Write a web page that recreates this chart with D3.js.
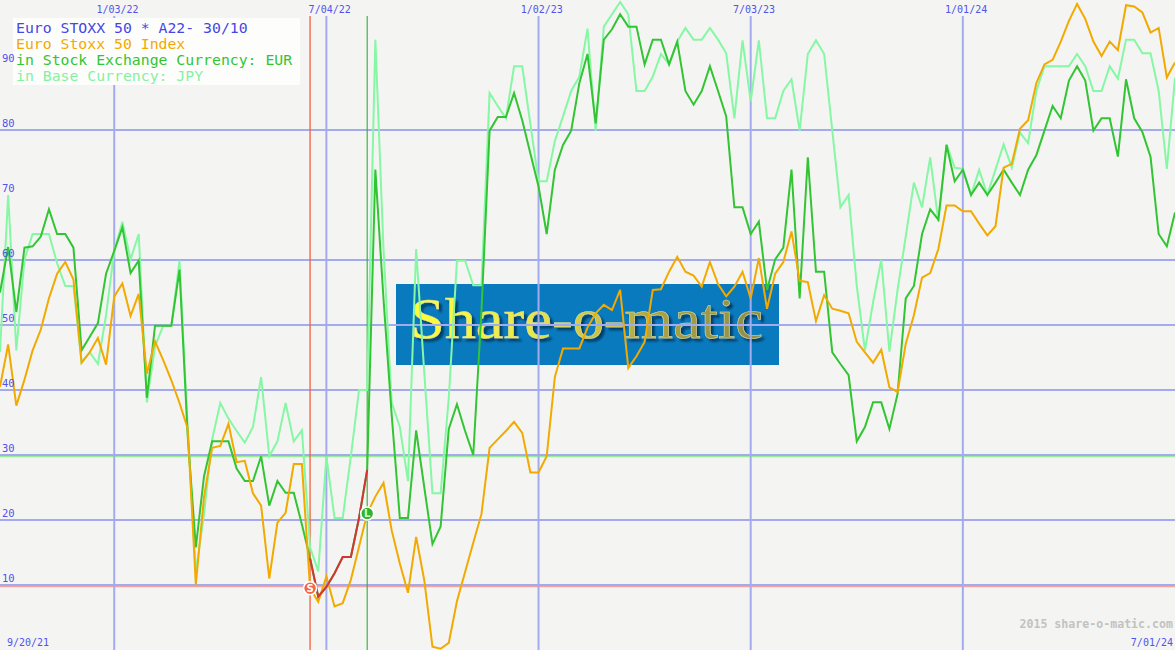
<!DOCTYPE html>
<html><head><meta charset="utf-8">
<script src="https://cdn.jsdelivr.net/npm/d3@7"></script>
<style>html,body{margin:0;padding:0;background:#f4f5f2;overflow:hidden}svg{display:block}</style>
</head><body>
<svg id="c" width="1175" height="650"></svg>
<script>
// ---------- data ----------
const startDate = "2021-09-27";
const endDate = "2024-07-01";

const indexValues = [
40.5,47,37.6,41.6,46.1,49.3,54.1,57.9,59.7,57,
44.2,45.8,48,43.9,54.4,56.4,51.4,54.8,42.5,47.5,
44.6,41.5,38,34.1,10.1,23.5,31.1,31.4,34.8,28.9,
29.1,24.1,22.2,11,19.6,21.1,28.6,28.6,9.5,7.4,
11.3,6.7,7.2,10.8,15.9,21,23.6,25.7,18.4,13.3,
8.8,17.4,10.7,0.5,0.2,1.1,7.5,12,16.5,20.9,
31.1,32.4,33.7,35.1,33.4,27.3,27.3,29.8,42,46.4,
46.4,46.4,49.6,51.8,53.1,52.3,55.4,43.4,45.2,47.4,
55.4,55.5,58.2,60.5,58.2,57.6,55.9,59.7,56.3,54.4,
55.9,58.2,54.1,60.3,52.5,57.9,59.7,64.4,56.8,56.6,
50.6,54.6,52.5,52.2,51.8,47.4,45.8,44.2,46.2,40.4,
39.7,47.1,51.5,57.3,58,61.7,68.4,68.4,67.5,67.5,
65.6,63.8,65.2,74.2,74.8,80.2,81.5,87.2,90.1,90.8,
93.6,96.8,99.4,97.1,93.6,91.4,93.6,92.3,99.2,99,
98.1,95,95.7,88.1,90.4];

const eurValues = [
55,62,52,61.9,62.1,63.6,67.8,64,64,61.9,
46.1,48.2,50.3,57.9,61.4,65,58,59.9,38.8,49.9,
49.9,49.9,58.5,33,15.8,26.7,32.1,32.1,32.1,27.9,
26,26,29.8,22.2,26,24.2,24.2,19.3,14.1,8.2,
9.7,11.8,14.3,14.3,20.3,27.7,73.9,54,36.2,20.3,
20.3,33.8,25,16.3,19,34,37.8,33.7,30,52,
79.9,82,82,85.7,81.5,76.4,71.3,64,73.9,77.7,
79.9,87.2,91.7,81,93.9,95.5,97.8,95.9,95.9,90.1,
93.9,93.9,90.1,93.6,86,83.9,86,89.8,86,82.1,
68.1,68.1,64,65.9,55.4,60.1,61.9,73.9,54.1,75.8,
58.2,58.2,45.8,44,42.3,32.1,34.3,38.1,38.1,34,
39.4,54.1,56,64,67.8,66.2,77.7,72.1,73.9,70,
71.9,70,71.9,73.9,71.9,70,73.9,76.1,79.9,83.7,
81.8,87.6,89.8,87.6,79.9,81.8,81.8,75.9,87.8,81.8,
79.7,75.9,64,62.1,67.3];

const jpyValues = [
45.8,70,46.1,60.1,64,64,64,59.5,56,56,
44.2,45.8,44,51.5,61.4,65.9,60.1,64,38.1,46.7,
49.9,49.9,59.9,34.3,12,20.9,32.4,38,35.6,33.7,
31.9,34.3,42,29.8,32.1,38,32.1,33.8,15.8,12.1,
29.8,20.3,20.3,29.8,40,40,93.9,61.7,38.1,34.3,
26,61.7,42.6,24.1,24.1,38.8,59.9,59.9,56.1,56.1,
85.7,83.7,81.8,89.8,89.8,80.9,72.1,72.1,78.3,82.1,
86,88.2,95.6,79.9,95.9,97.8,99.7,97.8,86,86,
88.2,91.7,90.1,93.6,95.7,93.9,93.9,95.7,93.9,91.8,
81.8,93.8,84.4,93.8,81.8,81.8,86,87.8,79.9,91.7,
93.8,91.7,79.9,68.1,70,56,46.1,53.5,60,45.9,
55.4,63.6,71.9,68.1,75.8,65.9,77.8,74.2,74,70,
73.9,70,73.9,77.8,74.2,79.6,78,86,89.8,89.8,
89.8,89.8,91.7,89.8,86,86,89.8,87.9,93.9,93.9,
91.8,91.8,86,74,88];

const topTickDates = ["2022-01-03","2022-07-04","2023-01-02","2023-07-03","2024-01-01"];
const topTickLabels = ["1/03/22","7/04/22","1/02/23","7/03/23","1/01/24"];
const yTickValues = [10,20,30,40,50,60,70,80,90];
const yGridValues = [10,20,30,40,50,60,80];
const startLabel = "9/20/21";
const endLabel = "7/01/24";
const sellWeek = 38;
const buyWeek = 45;
const legendLines = [
  {text:"Euro STOXX 50 * A22- 30/10", color:"#4646e4"},
  {text:"Euro Stoxx 50 Index", color:"#f2a900"},
  {text:"in Stock Exchange Currency: EUR", color:"#33c433"},
  {text:"in Base Currency: JPY", color:"#86f0a4"}
];

// ---------- chart ----------
const W = 1175, H = 650;
const svg = d3.select("#c");
const parse = d3.utcParse("%Y-%m-%d");
const dates = d3.utcMonday.range(parse(startDate), d3.utcDay.offset(parse(endDate), 1));
const x = d3.scaleUtc().domain([dates[0], dates[dates.length - 1]]).range([0, W]);
const y = d3.scaleLinear().domain([0, 100]).range([H, 0]);

svg.append("rect").attr("width", W).attr("height", H).attr("fill", "#f4f5f2");

// watermark
const defs = svg.append("defs");
const grad = defs.append("linearGradient").attr("id", "wm").attr("x1", "0").attr("x2", "1").attr("y1", "0").attr("y2", "0");
grad.append("stop").attr("offset", "0").attr("stop-color", "#ffff3a");
grad.append("stop").attr("offset", "0.35").attr("stop-color", "#e8e64a");
grad.append("stop").attr("offset", "0.7").attr("stop-color", "#aaa244");
grad.append("stop").attr("offset", "1").attr("stop-color", "#8e8c4a");
const flt = defs.append("filter").attr("id", "sh").attr("x", "-5%").attr("y", "-20%").attr("width", "110%").attr("height", "150%");
flt.append("feDropShadow").attr("dx", 3).attr("dy", 3).attr("stdDeviation", 1.2)
  .attr("flood-color", "#04385c").attr("flood-opacity", 0.9);
const wm = svg.append("g");
wm.append("rect").attr("x", 396).attr("y", 284).attr("width", 383).attr("height", 81).attr("fill", "#0a7abf");
wm.append("text").attr("x", 410).attr("y", 338).attr("font-family", "Liberation Serif, serif")
  .attr("font-size", 56).attr("textLength", 353).attr("lengthAdjust", "spacingAndGlyphs")
  .attr("fill", "url(#wm)").attr("stroke", "#e0e0a0").attr("stroke-width", 0.5)
  .attr("filter", "url(#sh)").text("Share-o-matic");

// level lines
svg.append("line").attr("x1", 0).attr("x2", W).attr("y1", y(30) + 1.6).attr("y2", y(30) + 1.6)
  .attr("stroke", "#98ee98").attr("stroke-width", 1.3);
svg.append("line").attr("x1", 0).attr("x2", W).attr("y1", y(10) + 1.6).attr("y2", y(10) + 1.6)
  .attr("stroke", "#f4a4a0").attr("stroke-width", 1.3);

// grid
const gridColor = "#a3abee";
svg.append("g").selectAll("line").data(yGridValues).join("line")
  .attr("x1", 0).attr("x2", W).attr("y1", d => y(d)).attr("y2", d => y(d))
  .attr("stroke", gridColor).attr("stroke-width", 2);
svg.append("g").selectAll("line").data(topTickDates).join("line")
  .attr("x1", d => x(parse(d))).attr("x2", d => x(parse(d))).attr("y1", 16).attr("y2", H)
  .attr("stroke", gridColor).attr("stroke-width", 2);

// signal verticals
svg.append("line").attr("x1", x(dates[sellWeek])).attr("x2", x(dates[sellWeek])).attr("y1", 16).attr("y2", H)
  .attr("stroke", "#f4603e").attr("stroke-width", 1.3);
svg.append("line").attr("x1", x(dates[buyWeek])).attr("x2", x(dates[buyWeek])).attr("y1", 16).attr("y2", H)
  .attr("stroke", "#2fb02f").attr("stroke-width", 1.1);

// series
const line = d3.line().x((d, i) => x(dates[i])).y(d => y(d));
svg.append("path").datum(jpyValues).attr("d", line).attr("fill", "none").attr("stroke", "#86f7a4").attr("stroke-width", 2);
svg.append("path").datum(eurValues).attr("d", line).attr("fill", "none").attr("stroke", "#33c433").attr("stroke-width", 2);
svg.append("path").datum(indexValues).attr("d", line).attr("fill", "none").attr("stroke", "#f2a900").attr("stroke-width", 2);
const redLine = d3.line().x(d => x(dates[d])).y(d => y(eurValues[d]));
svg.append("path").datum(d3.range(sellWeek, buyWeek + 1)).attr("d", redLine).attr("fill", "none")
  .attr("stroke", "#d43434").attr("stroke-width", 2);

// legend box
svg.append("rect").attr("x", 13).attr("y", 18).attr("width", 287).attr("height", 67).attr("fill", "#fdfefc");
svg.append("g").selectAll("text").data(legendLines).join("text")
  .attr("x", 16).attr("y", (d, i) => 32.5 + i * 16)
  .attr("font-family", "DejaVu Sans Mono, monospace").attr("font-size", 14.8)
  .attr("fill", d => d.color).text(d => d.text);

// axis labels
const lblColor = "#5252ec";
svg.append("g").selectAll("text").data(topTickDates).join("text")
  .attr("x", d => x(parse(d)) + 3.3).attr("y", 12.5).attr("text-anchor", "middle")
  .attr("font-family", "DejaVu Sans Mono, monospace").attr("font-size", 10)
  .attr("fill", lblColor).text((d, i) => topTickLabels[i]);
svg.append("g").selectAll("text").data(yTickValues).join("text")
  .attr("x", 2).attr("y", d => y(d) - 3.5)
  .attr("font-family", "DejaVu Sans Mono, monospace").attr("font-size", 10.5)
  .attr("fill", lblColor).text(d => d);
svg.append("text").attr("x", 7).attr("y", 646).attr("font-family", "DejaVu Sans Mono, monospace")
  .attr("font-size", 10).attr("fill", lblColor).text(startLabel);
svg.append("text").attr("x", 1173).attr("y", 646).attr("text-anchor", "end").attr("font-family", "DejaVu Sans Mono, monospace")
  .attr("font-size", 10).attr("fill", lblColor).text(endLabel);
svg.append("text").attr("x", 1173).attr("y", 628).attr("text-anchor", "end").attr("font-family", "DejaVu Sans Mono, monospace")
  .attr("font-size", 11.6).attr("font-weight", "bold").attr("fill", "#c2c2c2").text("2015 share-o-matic.com");

// markers
function marker(week, fill, label, labelColor) {
  const g = svg.append("g").attr("transform", `translate(${x(dates[week])},${y(indexValues[week])})`);
  g.append("circle").attr("r", 6.5).attr("fill", fill).attr("stroke", "#ffffff").attr("stroke-width", 1.6);
  g.append("text").attr("y", 3.6).attr("text-anchor", "middle").attr("font-family", "DejaVu Sans, sans-serif")
    .attr("font-size", 10).attr("font-weight", "bold").attr("fill", labelColor).text(label);
}
marker(sellWeek, "#f26548", "S", "#ffffff");
marker(buyWeek, "#2fb62f", "L", "#c8ffc8");
</script>
</body></html>
